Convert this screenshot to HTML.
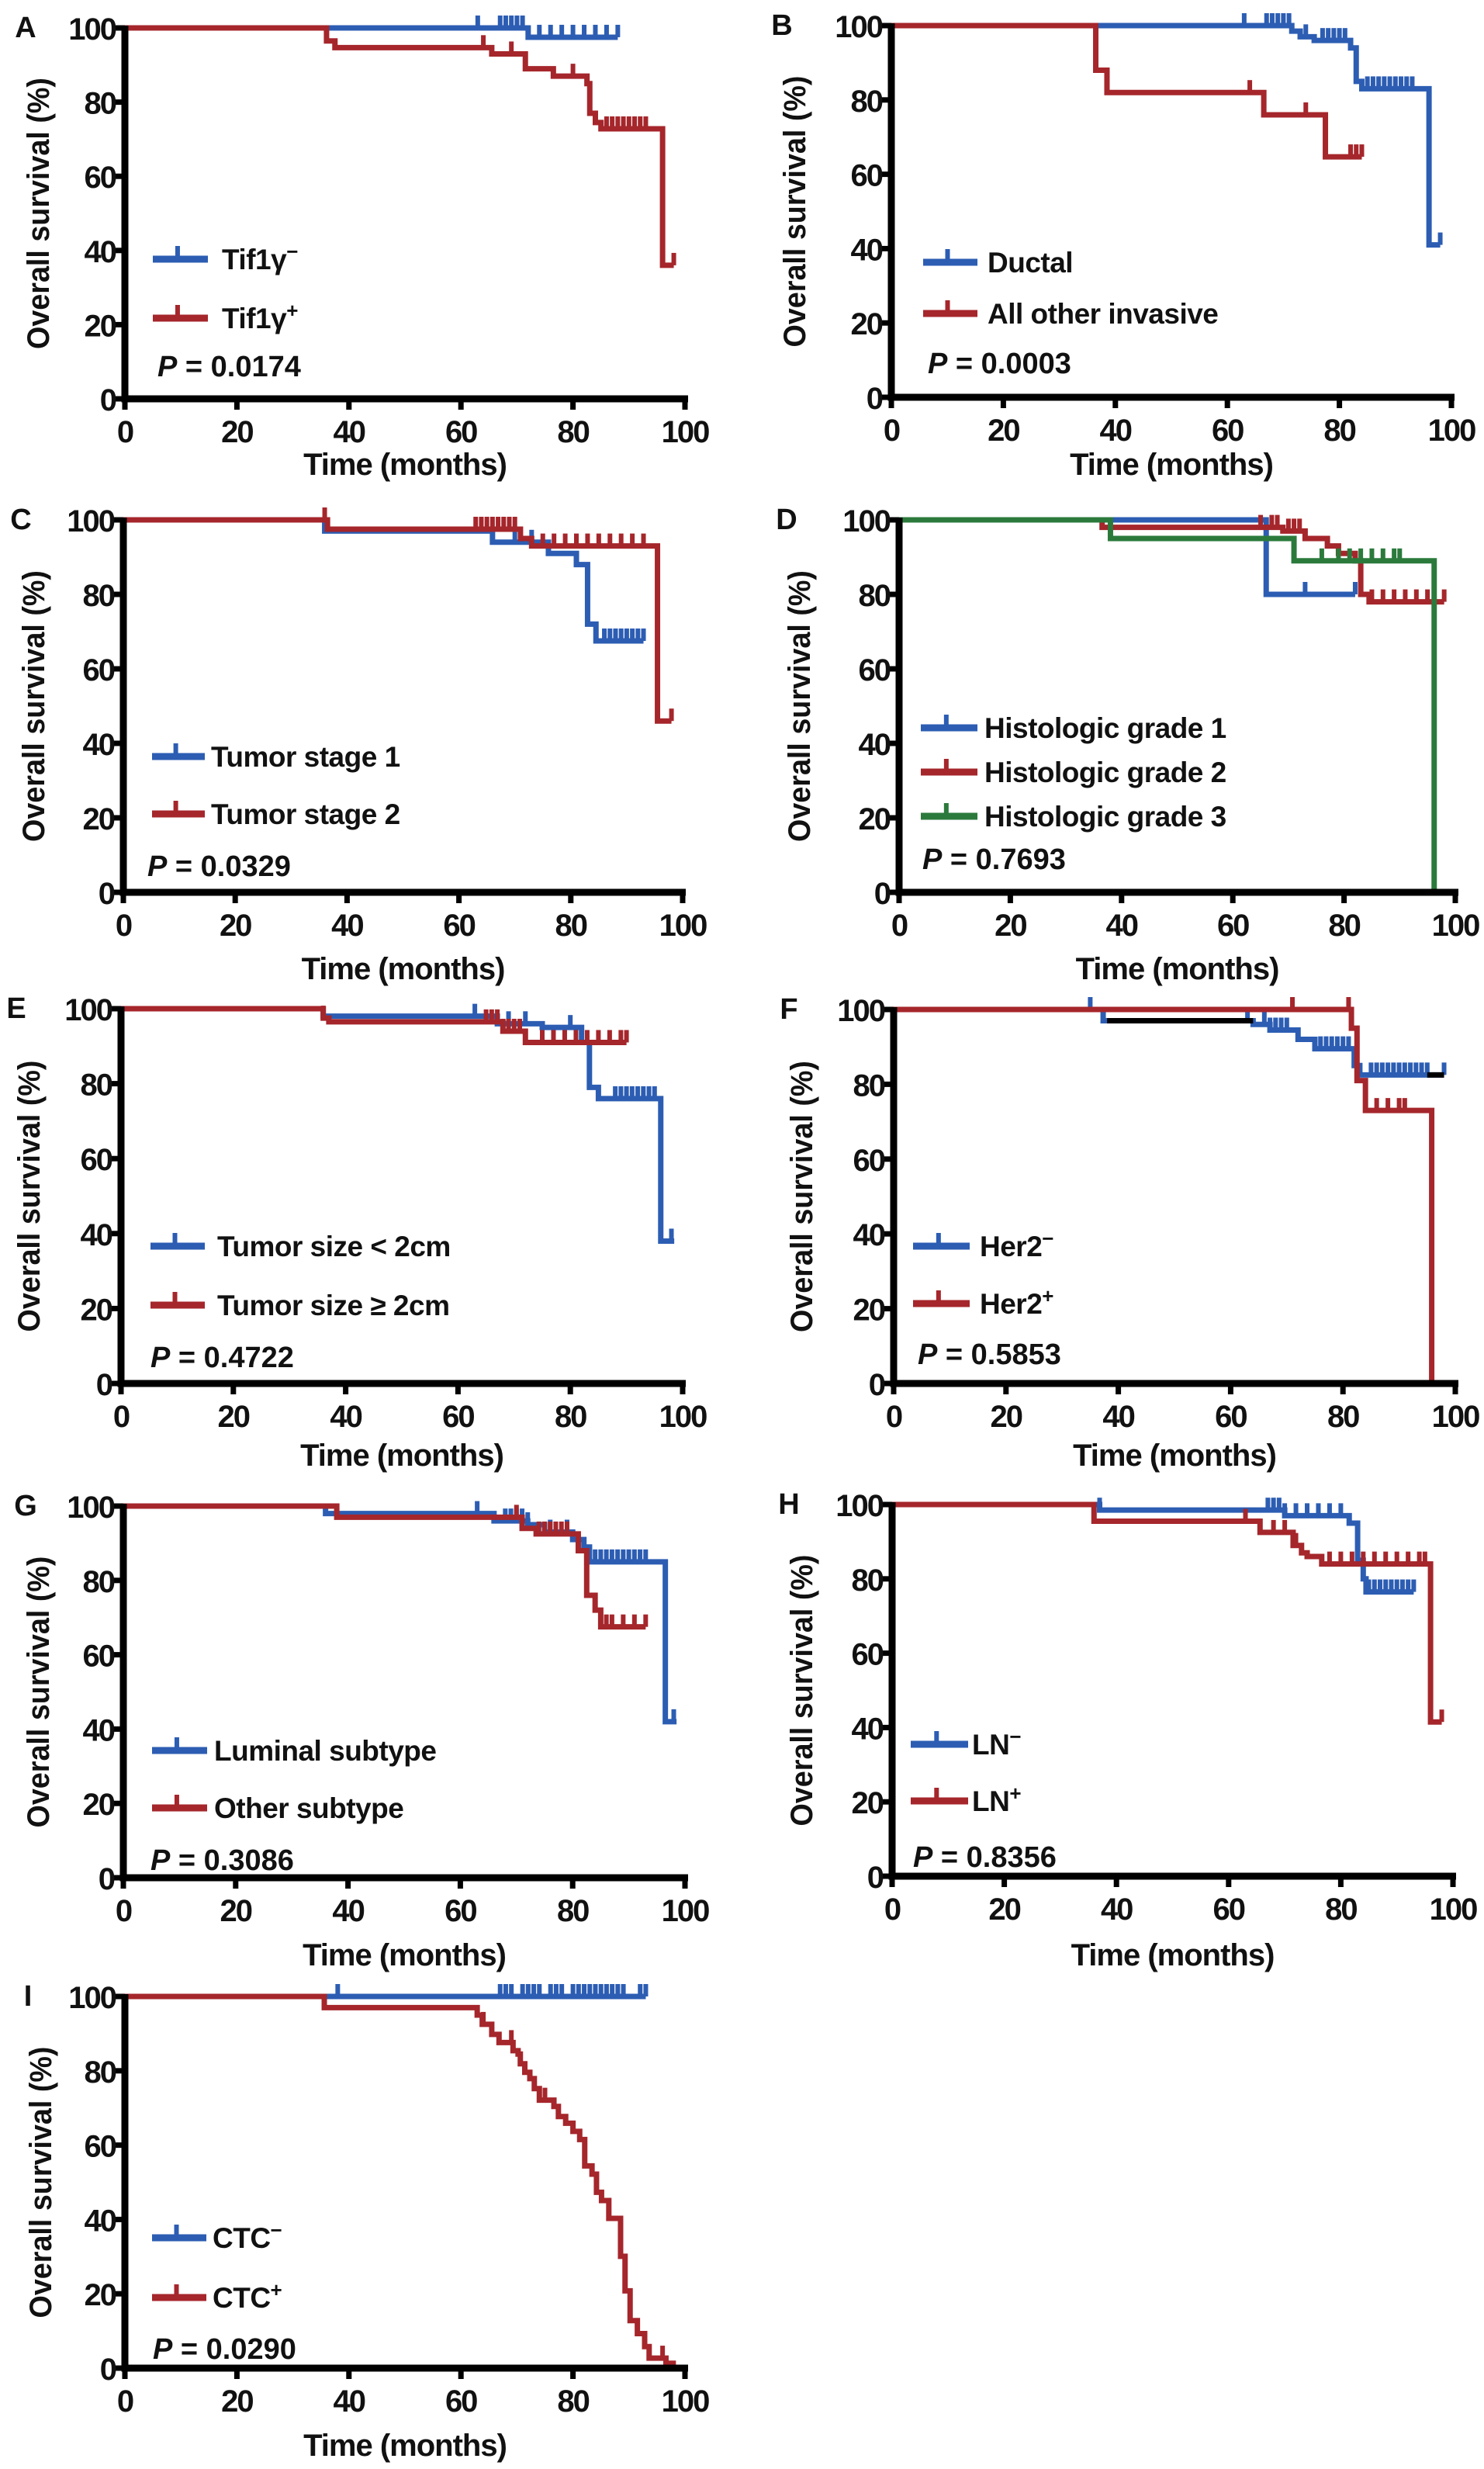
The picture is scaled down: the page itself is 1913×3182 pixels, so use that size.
<!DOCTYPE html>
<html><head><meta charset="utf-8">
<style>
html,body{margin:0;padding:0;background:#fff;}
svg{display:block;}
text{font-family:"Liberation Sans",Arial,sans-serif;font-weight:bold;fill:#111;}
</style></head>
<body>
<svg id="fig" width="1913" height="3182" viewBox="0 0 1913 3182" xmlns="http://www.w3.org/2000/svg"></svg>
<script>
// ---- data (step event times, survival after each step, censor times, follow-up end) ----
const A_neg_times=[72]; const A_neg_surv=[97.5]; const A_neg_cens=[63,67,68,69,70,71,74,76,78,80,82,84,86,88]; const A_neg_end=88;
const A_pos_times=[36,37.5,65.5,71.5,76.5,82.5,83,84,85,96]; const A_pos_surv=[96.5,94.7,93,89,87,85,77,74.5,72.8,36]; const A_pos_cens=[64,69,80,86,87,88,89,90,91,92,93,98]; const A_pos_end=98;
const B_duct_times=[71.5,73,75.5,82,83,84,96]; const B_duct_surv=[98.5,97,96,94,85,83,41]; const B_duct_cens=[63,67,68,69,70,71,74,77,78,79,80,81,85,86,87,88,89,90,91,92,93,98]; const B_duct_end=98;
const B_oth_times=[36.5,38.5,66.5,77.5]; const B_oth_surv=[88,82,76,64.7]; const B_oth_cens=[64,74,82,83,84]; const B_oth_end=84;
const C_s1_times=[36,66,76,81,83,84.5]; const C_s1_surv=[97,94,91,88,72,67.5]; const C_s1_cens=[70,73,86,87,88,89,90,91,92,93]; const C_s1_end=93;
const C_s2_times=[36.5,71,73,95.5]; const C_s2_surv=[97.5,95,93,46]; const C_s2_cens=[36,63,64,65,66,67,68,69,70,75,77,79,81,83,85,87,89,91,93,98]; const C_s2_end=98;
const D_g1_times=[66]; const D_g1_surv=[80]; const D_g1_cens=[73,82]; const D_g1_end=82;
const D_g2_times=[36.5,69,73,77,79,82,83,84.5]; const D_g2_surv=[98,97,95,93,91,89,80,78]; const D_g2_cens=[65,67,68,70,71,72,85,87,89,91,93,95,98]; const D_g2_end=98;
const D_g3_times=[38,71,96.2]; const D_g3_surv=[95,89,0]; const D_g3_cens=[71,76,79,81,83,85,87,89,90]; const D_g3_end=96.2;
const E_s1_times=[36,67,75,82,83.4,85,96.1]; const E_s1_surv=[98,96,95,91,79,76,38]; const E_s1_cens=[63,69,72,80,88,89,90,91,92,93,94,95,98]; const E_s1_end=98.5;
const E_s2_times=[36,37,68,72]; const E_s2_surv=[97.5,96.5,94,91]; const E_s2_cens=[36,65,66,67,68,69,70,71,72,75,77,79,81,83,85,87,89,90]; const E_s2_end=90;
const F_neg_times=[37.3,64,67,72,75,82,83]; const F_neg_surv=[97,96,94.5,92,89.5,85,82.5]; const F_neg_cens=[35,63,66,67,68,69,70,76,77,78,79,80,81,85,86,87,88,89,90,91,92,93,94,95,98]; const F_neg_end=98;
const F_pos_times=[81.5,82.5,84,95.8]; const F_pos_surv=[95,81,73,0]; const F_pos_cens=[71,81,86,88,90,91]; const F_pos_end=95.8;
const G_lum_times=[36,66,72,75,80,82,83,96.5]; const G_lum_surv=[98,96,95,93,91,89,85,42]; const G_lum_cens=[63,68,69,70,71,72,76,79,84,85,86,87,88,89,90,91,92,93,98]; const G_lum_end=98.5;
const G_oth_times=[38,71,73.5,81,82.5,84,85]; const G_oth_surv=[97,94,92.5,88,76,72,67.5]; const G_oth_cens=[70,74,75,76,77,78,79,86,87,89,91,93]; const G_oth_end=93;
const H_neg_times=[37,70,81.5,83,84,84.5]; const H_neg_surv=[98.5,97,95,85,80,76.5]; const H_neg_cens=[37,67,68,69,70,72,74,76,78,80,85,86,87,88,89,90,91,92,93]; const H_neg_end=93;
const H_pos_times=[36,65.6,71.5,73,74,76.6,96]; const H_pos_surv=[95.5,92.5,89,87,86,84,41.5]; const H_pos_cens=[63,68,70,72,78,80,82,84,86,88,90,92,94,95,98]; const H_pos_end=98;
const I_neg_times=[]; const I_neg_surv=[]; const I_neg_cens=[38,67,68,69,71,72,73,74,76,77,78,80,81,82,83,84,85,86,87,88,89,92,93]; const I_neg_end=93;
const I_pos_times=[35.6,62.9,63.8,65.5,66.8,69.3,70.2,70.6,71.4,72.3,73.1,74,76.6,77.4,78.7,80,81.2,82.1,83.4,84.2,85.1,86.4,88.5,89.3,90.2,91.5,92.8,93.6,96.6,97.9];
const I_pos_surv=[97,95,92.5,89.8,87.6,85.4,84.5,81.9,79.6,77.9,75.2,72.1,70.4,67.7,65.9,63.7,61.5,54.4,52.2,47.3,45.1,40.3,30.1,20.8,12.8,9.3,5.8,2.7,1.3,0];
const I_pos_cens=[64,69,75,96]; const I_pos_end=97.9;
const xTickLabels=["0","20","40","60","80","100"];
const yTickLabels=["0","20","40","60","80","100"];

const BLUE="#2c5db3", RED="#a5262b", GREEN="#2b7a3c";
const NS="http://www.w3.org/2000/svg";
const svg=document.getElementById('fig');
function mk(tag,attrs,parent){const e=document.createElementNS(NS,tag);for(const k in attrs)e.setAttribute(k,attrs[k]);(parent||svg).appendChild(e);return e;}

const panels=[
 {id:'A',x0:161,x1:883,yt:36,yb:514,ylab:49,title:598,legY:[334,410],legX:[197,268,286],px:203,py:471,
  series:[[A_neg_times,A_neg_surv,A_neg_cens,A_neg_end,BLUE],[A_pos_times,A_pos_surv,A_pos_cens,A_pos_end,RED]],
  leg:[["Tif1γ","-",BLUE],["Tif1γ","+",RED]],p:"P = 0.0174"},
 {id:'B',x0:1149,x1:1871,yt:33,yb:512,ylab:1024,title:598,legY:[338,404],legX:[1190,1260,1273],px:1196,py:467,
  series:[[B_duct_times,B_duct_surv,B_duct_cens,B_duct_end,BLUE],[B_oth_times,B_oth_surv,B_oth_cens,B_oth_end,RED]],
  leg:[["Ductal","",BLUE],["All other invasive","",RED]],p:"P = 0.0003"},
 {id:'C',x0:159,x1:880,yt:670,yb:1150,ylab:43,title:1248,legY:[975,1049],legX:[196,264,272],px:190,py:1115,
  series:[[C_s1_times,C_s1_surv,C_s1_cens,C_s1_end,BLUE],[C_s2_times,C_s2_surv,C_s2_cens,C_s2_end,RED]],
  leg:[["Tumor stage 1","",BLUE],["Tumor stage 2","",RED]],p:"P = 0.0329"},
 {id:'D',x0:1159,x1:1876,yt:670,yb:1150,ylab:1030,title:1248,legY:[938,995,1052],legX:[1187,1260,1269],px:1189,py:1106,
  series:[[D_g1_times,D_g1_surv,D_g1_cens,D_g1_end,BLUE],[D_g2_times,D_g2_surv,D_g2_cens,D_g2_end,RED],[D_g3_times,D_g3_surv,D_g3_cens,D_g3_end,GREEN]],
  leg:[["Histologic grade 1","",BLUE],["Histologic grade 2","",RED],["Histologic grade 3","",GREEN]],p:"P = 0.7693"},
 {id:'E',x0:156,x1:880,yt:1300,yb:1783,ylab:37,title:1875,legY:[1606,1682],legX:[194,264,280],px:194,py:1748,
  series:[[E_s1_times,E_s1_surv,E_s1_cens,E_s1_end,BLUE],[E_s2_times,E_s2_surv,E_s2_cens,E_s2_end,RED]],
  leg:[["Tumor size < 2cm","",BLUE],["Tumor size ≥ 2cm","",RED]],p:"P = 0.4722"},
 {id:'F',x0:1152,x1:1876,yt:1301,yb:1783,ylab:1033,title:1875,legY:[1606,1680],legX:[1177,1250,1263],px:1183,py:1744,
  series:[[F_neg_times,F_neg_surv,F_neg_cens,F_neg_end,BLUE],[F_pos_times,F_pos_surv,F_pos_cens,F_pos_end,RED]],
  leg:[["Her2","-",BLUE],["Her2","+",RED]],p:"P = 0.5853"},
 {id:'G',x0:159,x1:883,yt:1941,yb:2420,ylab:49,title:2519,legY:[2256,2330],legX:[196,267,276],px:194,py:2396,
  series:[[G_lum_times,G_lum_surv,G_lum_cens,G_lum_end,BLUE],[G_oth_times,G_oth_surv,G_oth_cens,G_oth_end,RED]],
  leg:[["Luminal subtype","",BLUE],["Other subtype","",RED]],p:"P = 0.3086"},
 {id:'H',x0:1150,x1:1873,yt:1939,yb:2418,ylab:1033,title:2519,legY:[2248,2321],legX:[1174,1248,1253],px:1177,py:2392,
  series:[[H_neg_times,H_neg_surv,H_neg_cens,H_neg_end,BLUE],[H_pos_times,H_pos_surv,H_pos_cens,H_pos_end,RED]],
  leg:[["LN","-",BLUE],["LN","+",RED]],p:"P = 0.8356"},
 {id:'I',x0:161,x1:883,yt:2573,yb:3052,ylab:52,title:3151,legY:[2884,2961],legX:[196,266,274],px:197,py:3026,
  series:[[I_neg_times,I_neg_surv,I_neg_cens,I_neg_end,BLUE],[I_pos_times,I_pos_surv,I_pos_cens,I_pos_end,RED]],
  leg:[["CTC","-",BLUE],["CTC","+",RED]],p:"P = 0.0290"}
];

function survAt(times,surv,t){let s=100;for(let i=0;i<times.length;i++){if(times[i]<=t)s=surv[i];}return s;}

panels.forEach(P=>{
  const g=mk('g',{});
  
  
  const sx=t=>P.x0+(P.x1-P.x0)*t/100;
  const sy=v=>P.yb-(P.yb-P.yt)*v/100;
  // series
  P.series.forEach((S,si)=>{
    const [times,surv,cens,end,col]=S;
    let d=`M${sx(0)},${sy(100)}`;
    for(let i=0;i<times.length;i++){d+=` H${sx(times[i])} V${sy(surv[i])}`;}
    const lastT=times.length?times[times.length-1]:0;
    if(end>lastT) d+=` H${sx(end)}`;
    const path=mk('path',{d:d,fill:'none',stroke:col,'stroke-width':7,'stroke-linejoin':'miter'},g);
    
    
    cens.forEach(c=>{
      const v=survAt(times,surv,c);
      const tk=mk('line',{x1:sx(c),x2:sx(c),y1:sy(v),y2:sy(v)-16,stroke:col,'stroke-width':6},g);
      
      
    });
  });
  if(P.id==='F'){
    const b1=mk('path',{d:`M${sx(38)},${sy(97)} H${sx(64)} M${sx(95)},${sy(82.5)} H${sx(98)}`,stroke:'#000','stroke-width':7,fill:'none'},g);
    
    
  }
  // axes
  const ax=mk('path',{d:`M${P.x0},${P.yt-3} V${P.yb} H${P.x1+4}`,fill:'none',stroke:'#000','stroke-width':9},g);
  
  
  xTickLabels.forEach((lab,i)=>{
    const x=sx(i*20);
    const t=mk('line',{x1:x,x2:x,y1:P.yb,y2:P.yb+14,stroke:'#000','stroke-width':7},g);
    
    
    const tx=mk('text',{x:x,y:P.yb+56,'font-size':40,'text-anchor':'middle','letter-spacing':-2},g);
    tx.textContent=lab;
    
    
  });
  yTickLabels.forEach((lab,i)=>{
    const y=sy(i*20);
    const t=mk('line',{x1:P.x0-14,x2:P.x0,y1:y,y2:y,stroke:'#000','stroke-width':7},g);
    
    
    const tx=mk('text',{x:P.x0-12,y:y+15,'font-size':40,'text-anchor':'end','letter-spacing':-2},g);
    tx.textContent=lab;
    
    
  });
  const xt=mk('text',{x:(P.x0+P.x1)/2,y:P.title+14,'font-size':40,'text-anchor':'middle','letter-spacing':-1},g);
  xt.textContent='Time (months)';
  
  
  const ym=(P.yt+P.yb)/2;
  const yl=mk('text',{x:0,y:0,'font-size':40,'text-anchor':'middle',textLength:350,lengthAdjust:'spacingAndGlyphs',transform:`translate(${P.ylab+14},${ym}) rotate(-90)`},g);
  yl.textContent='Overall survival (%)';
  
  
  const pl=mk('text',{x:P.ylab-16,y:P.yt+12,'font-size':38,'text-anchor':'middle'},g);
  pl.textContent=P.id;
  
  
  // legend
  P.leg.forEach((L,i)=>{
    const y=P.legY[i];
    const lg=mk('g',{},g);
    
    
    mk('line',{x1:P.legX[0],x2:P.legX[1],y1:y,y2:y,stroke:L[2],'stroke-width':9},lg);
    const mx=P.legX[0]+(P.legX[1]-P.legX[0])*0.45;
    mk('line',{x1:mx,x2:mx,y1:y,y2:y-17,stroke:L[2],'stroke-width':6},lg);
    const tx=mk('text',{x:P.legX[2],y:y+13,'font-size':37,'letter-spacing':-0.5},lg);
    tx.textContent=L[0];
    if(L[1]){const sp=mk('tspan',{dy:-14,'font-size':26},tx);sp.textContent=L[1]==='-'?'−':'+';}
  });
  const pv=mk('text',{x:P.px,y:P.py+14,'font-size':38},g);
  const it=mk('tspan',{'font-style':'italic'},pv); it.textContent='P';
  const rest=mk('tspan',{},pv); rest.textContent=P.p.slice(1);
  
  
});
</script>
</body></html>
